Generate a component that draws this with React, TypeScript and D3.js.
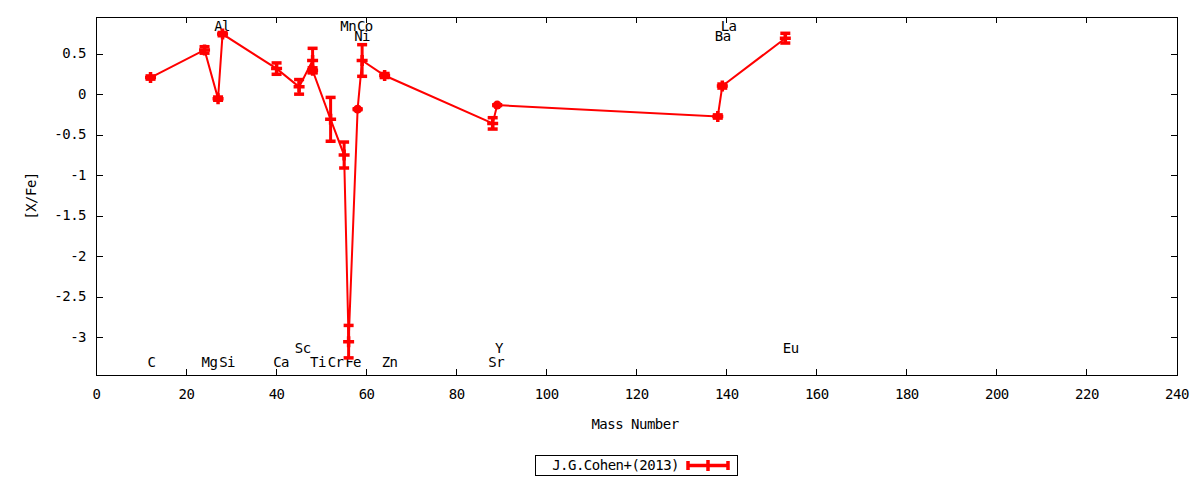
import React from "react";
import * as d3 from "d3";

// abundances: mass number, [X/Fe], error
const massNumbers = [12, 24, 27, 28, 40, 45, 48, 48, 52, 55, 56, 58, 59, 64, 88, 89, 138, 139, 153];
const abundances = [0.21, 0.55, -0.05, 0.745, 0.32, 0.095, 0.42, 0.30, -0.305, -0.745, -3.045, -0.18, 0.42, 0.235, -0.355, -0.13, -0.27, 0.105, 0.695];
const errors = [0.02, 0.04, 0.02, 0.02, 0.07, 0.09, 0.15, 0.03, 0.27, 0.16, 0.2, 0.005, 0.195, 0.025, 0.07, 0.005, 0.02, 0.025, 0.06];

// element labels (anchor in axis units)
const labelNames = ["Al", "Mn", "Co", "Ni", "La", "Ba", "C", "Mg", "Si", "Ca", "Sc", "Ti", "Cr", "Fe", "Zn", "Y", "Sr", "Eu"];
const labelX = [27.9, 55.9, 59.6, 59.0, 140.4, 139.1, 12.2, 25.1, 29.0, 41.0, 45.8, 49.2, 53.1, 57.0, 65.1, 89.4, 88.8, 154.2];
const labelY = [0.835, 0.835, 0.835, 0.705, 0.835, 0.705, -3.31, -3.31, -3.31, -3.31, -3.14, -3.31, -3.31, -3.31, -3.31, -3.14, -3.31, -3.14];

const xTicks = d3.range(0, 241, 20);
const yTicks = [0.5, 0, -0.5, -1, -1.5, -2, -2.5, -3];
const seriesName = "J.G.Cohen+(2013)";

const W = 1200;
const H = 480;
const RED = "#ff0000";
const font = {
  fontFamily: "'DejaVu Sans Mono', monospace",
  fontSize: 14,
  letterSpacing: -0.5,
};

export default function App() {
  const x = d3.scaleLinear().domain([0, 240]).range([96.5, 1177]);
  const y = d3.scaleLinear().domain([-3.456, 0.956]).range([375, 17]);

  const pts = massNumbers.map((m, i) => ({ m, v: abundances[i], e: errors[i] }));
  const line = d3
    .line<{ m: number; v: number }>()
    .x((d) => x(d.m))
    .y((d) => y(d.v));

  const [x0, x1] = x.range();
  const [yb, yt] = y.range();

  return (
    <svg width={W} height={H} style={{ position: "absolute", left: 0, top: 0, background: "#fff" }}>
      {/* frame */}
      <rect x={x0} y={yt} width={x1 - x0} height={yb - yt} fill="none" stroke="#000" strokeWidth={1} shapeRendering="crispEdges" />
      {xTicks.map((t) => (
        <g key={"x" + t}>
          <line x1={x(t)} x2={x(t)} y1={yb} y2={yb - 6} stroke="#000" shapeRendering="crispEdges" />
          <line x1={x(t)} x2={x(t)} y1={yt} y2={yt + 6} stroke="#000" shapeRendering="crispEdges" />
          <text x={x(t)} y={395} textAnchor="middle" dominantBaseline="middle" {...font}>
            {t}
          </text>
        </g>
      ))}
      {yTicks.map((t) => (
        <g key={"y" + t}>
          <line x1={x0} x2={x0 + 6} y1={y(t)} y2={y(t)} stroke="#000" shapeRendering="crispEdges" />
          <line x1={x1} x2={x1 - 6} y1={y(t)} y2={y(t)} stroke="#000" shapeRendering="crispEdges" />
          <text x={86} y={y(t)} textAnchor="end" dominantBaseline="middle" {...font}>
            {t}
          </text>
        </g>
      ))}

      {/* axis titles */}
      <text x={635} y={425} textAnchor="middle" dominantBaseline="middle" {...font}>
        Mass Number
      </text>
      <text
        transform={`translate(32,196) rotate(-90)`}
        textAnchor="middle"
        dominantBaseline="middle"
        {...font}
      >
        [X/Fe]
      </text>

      {/* element labels */}
      {labelNames.map((n, i) => (
        <text key={n} x={x(labelX[i])} y={y(labelY[i])} textAnchor="middle" dominantBaseline="middle" {...font}>
          {n}
        </text>
      ))}

      {/* series */}
      <path d={line(pts) ?? ""} fill="none" stroke={RED} strokeWidth={2} />
      {pts.map((d, i) => {
        const cx = x(d.m);
        const cy = y(d.v);
        const top = y(d.v + d.e);
        const bot = y(d.v - d.e);
        return (
          <g key={i} stroke={RED}>
            <line x1={cx} x2={cx} y1={top} y2={bot} strokeWidth={3} />
            <line x1={cx - 5} x2={cx + 5} y1={top} y2={top} strokeWidth={3.5} />
            <line x1={cx - 5} x2={cx + 5} y1={bot} y2={bot} strokeWidth={3.5} />
            {d.e < 0.01 ? (
              <circle cx={cx} cy={cy} r={4.5} fill={RED} stroke="none" />
            ) : (
              <path d={`M${cx - 5.5},${cy}H${cx + 5.5}M${cx},${cy - 5.5}V${cy + 5.5}`} strokeWidth={3.5} />
            )}
          </g>
        );
      })}

      {/* legend */}
      <rect x={535.5} y={455.5} width={202} height={20} fill="none" stroke="#000" shapeRendering="crispEdges" />
      <text x={679} y={465.5} textAnchor="end" dominantBaseline="middle" {...font}>
        {seriesName}
      </text>
      <g stroke={RED}>
        <line x1={687} x2={729} y1={465.5} y2={465.5} strokeWidth={3.5} />
        <line x1={688} x2={688} y1={461} y2={470} strokeWidth={3.5} />
        <line x1={728} x2={728} y1={461} y2={470} strokeWidth={3.5} />
        <line x1={708} x2={708} y1={460} y2={471} strokeWidth={3.5} />
      </g>
    </svg>
  );
}
